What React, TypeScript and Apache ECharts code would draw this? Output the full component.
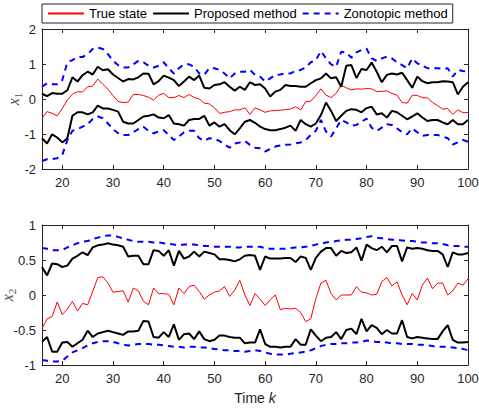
import React, { useEffect, useRef } from "react";
import * as echarts from "echarts";

// time steps k
const steps = [
  16, 17, 18, 19, 20, 21, 22, 23, 24, 25, 26, 27, 28, 29, 30, 31, 32, 33, 34, 35,
  36, 37, 38, 39, 40, 41, 42, 43, 44, 45, 46, 47, 48, 49, 50, 51, 52, 53, 54, 55,
  56, 57, 58, 59, 60, 61, 62, 63, 64, 65, 66, 67, 68, 69, 70, 71, 72, 73, 74, 75,
  76, 77, 78, 79, 80, 81, 82, 83, 84, 85, 86, 87, 88, 89, 90, 91, 92, 93, 94, 95,
  96, 97, 98, 99, 100,
];
const xTicks = [20, 30, 40, 50, 60, 70, 80, 90, 100];
const legendNames = ["True state", "Proposed method", "Zonotopic method"];

// x1: true state
const x1True = [
  -0.55, -0.36, -0.41, -0.48, -0.27, -0.03, 0.14, 0.21, 0.2, 0.35, 0.37, 0.57, 0.42, 0.28, 0.1, -0.07, -0.1, -0.09, 0.13, 0.13,
  0.1, 0.05, -0.03, 0.11, 0.16, 0.04, 0.04, 0.1, 0.04, 0.13, 0.04, 0.0, -0.12, -0.14, -0.25, -0.41, -0.38, -0.36, -0.31, -0.31,
  -0.25, -0.44, -0.25, -0.31, -0.38, -0.34, -0.33, -0.32, -0.3, -0.29, -0.22, -0.31, -0.08, -0.06, 0.1, 0.29, 0.11, 0.04, 0.16, 0.4,
  0.32, 0.26, 0.29, 0.28, 0.3, 0.29, 0.21, 0.22, 0.23, 0.16, 0.11, -0.1, -0.12, 0.11, 0.1, 0.04, 0.03, -0.1, -0.19, -0.29,
  -0.27, -0.44, -0.31, -0.39, -0.39,
];
// x1: proposed method bounds
const x1PropUpper = [
  0.15, 0.08, 0.17, 0.15, 0.15, 0.25, 0.62, 0.5, 0.68, 0.78, 0.7, 0.92, 0.82, 0.85, 0.7, 0.6, 0.5, 0.57, 0.56, 0.62,
  0.73, 0.72, 0.42, 0.51, 0.67, 0.61, 0.54, 0.37, 0.5, 0.64, 0.54, 0.67, 0.32, 0.3, 0.4, 0.42, 0.48, 0.35, 0.24, 0.35,
  0.26, 0.48, 0.4, 0.42, 0.3, 0.07, 0.21, 0.26, 0.4, 0.37, 0.37, 0.35, 0.35, 0.45, 0.54, 0.59, 0.73, 0.59, 0.62, 0.35,
  0.95, 0.97, 0.6, 0.86, 0.83, 1.04, 0.78, 0.48, 0.69, 0.73, 0.7, 0.75, 0.54, 0.32, 0.64, 0.51, 0.45, 0.48, 0.48, 0.51,
  0.5, 0.48, 0.13, 0.35, 0.48,
];
const x1PropLower = [
  -1.12, -1.27, -1.01, -1.1, -1.24, -1.12, -0.48, -0.38, -0.38, -0.44, -0.38, -0.19, -0.27, -0.27, -0.31, -0.36, -0.65, -0.7, -0.7, -0.6,
  -0.5, -0.48, -0.44, -0.53, -0.55, -0.46, -0.7, -0.72, -0.76, -0.6, -0.57, -0.57, -0.48, -0.76, -0.67, -0.79, -0.72, -0.89, -1.01, -0.84,
  -0.65, -0.6, -0.68, -0.79, -0.86, -0.89, -0.89, -0.86, -0.82, -0.76, -0.91, -0.6, -0.72, -0.79, -0.7, -0.46, -0.1, -0.34, -0.63, -0.48,
  -0.34, -0.29, -0.31, -0.38, -0.26, -0.22, -0.44, -0.41, -0.53, -0.34, -0.38, -0.48, -0.58, -0.5, -0.41, -0.53, -0.63, -0.6, -0.6, -0.67,
  -0.72, -0.6, -0.72, -0.72, -0.6,
];
// x1: zonotopic method bounds
const x1ZonoUpper = [
  0.35, 0.45, 0.42, 0.42, 0.54, 1.05, 1.11, 1.2, 1.2, 1.28, 1.43, 1.47, 1.43, 1.28, 1.09, 0.97, 0.9, 0.9, 0.99, 1.09,
  1.05, 0.95, 0.9, 0.95, 1.05, 0.88, 0.73, 0.88, 0.99, 0.99, 0.92, 0.73, 0.69, 0.88, 0.88, 0.83, 0.73, 0.59, 0.73, 0.78,
  0.78, 0.83, 0.69, 0.64, 0.5, 0.59, 0.69, 0.7, 0.73, 0.73, 0.8, 0.83, 0.9, 1.05, 1.11, 1.37, 1.16, 0.99, 0.92, 1.35,
  1.33, 1.18, 1.33, 1.4, 1.44, 1.16, 1.09, 1.16, 1.21, 1.16, 1.05, 0.97, 0.88, 1.16, 1.02, 0.95, 0.88, 0.88, 0.88, 0.86,
  0.88, 0.64, 0.83, 0.8, 0.78,
];
const x1ZonoLower = [
  -1.77, -1.72, -1.72, -1.69, -1.6, -1.17, -0.91, -0.86, -0.79, -0.72, -0.57, -0.5, -0.55, -0.7, -0.86, -0.98, -1.03, -1.03, -0.95, -0.86,
  -0.79, -0.91, -0.98, -0.93, -0.89, -1.03, -1.17, -1.07, -0.95, -0.91, -0.91, -1.12, -1.2, -1.12, -1.14, -1.2, -1.3, -1.39, -1.27, -1.24,
  -1.2, -1.31, -1.39, -1.41, -1.5, -1.43, -1.36, -1.33, -1.31, -1.3, -1.27, -1.24, -1.17, -1.03, -0.91, -0.6, -0.93, -1.07, -0.84, -0.6,
  -0.67, -0.76, -0.74, -0.65, -0.56, -0.82, -0.91, -0.82, -0.72, -0.74, -0.84, -0.95, -1.01, -0.84, -0.95, -1.05, -1.03, -1.03, -1.03, -1.07,
  -1.12, -1.3, -1.24, -1.17, -1.22,
];

// x2: true state
const x2True = [
  -0.48, -0.34, -0.31, -0.1, -0.28, -0.2, -0.09, -0.23, -0.12, -0.14, 0.05, 0.25, 0.26, 0.17, 0.04, 0.05, 0.06, -0.1, 0.1, 0.06,
  -0.09, -0.14, 0.1, 0.02, 0.02, 0.01, -0.14, 0.1, 0.02, 0.12, 0.14, 0.05, -0.06, 0.0, 0.04, 0.06, 0.12, -0.02, 0.07, 0.21,
  0.0, -0.15, 0.02, -0.06, -0.15, -0.07, 0.0, -0.21, -0.19, -0.2, -0.19, -0.25, -0.38, -0.34, -0.05, 0.17, 0.21, 0.02, -0.07, 0.0,
  0.0, 0.0, 0.12, 0.04, 0.03, 0.0, 0.01, 0.19, 0.25, 0.13, 0.19, 0.0, -0.14, 0.02, -0.07, 0.14, 0.24, 0.09, 0.17, 0.17,
  0.0, 0.06, 0.17, 0.14, 0.23,
];
// x2: proposed method bounds
const x2PropUpper = [
  0.4, 0.28, 0.45, 0.44, 0.4, 0.42, 0.52, 0.56, 0.61, 0.57, 0.68, 0.71, 0.72, 0.74, 0.72, 0.71, 0.69, 0.55, 0.56, 0.56,
  0.44, 0.44, 0.64, 0.63, 0.56, 0.64, 0.42, 0.63, 0.52, 0.55, 0.62, 0.55, 0.62, 0.6, 0.58, 0.51, 0.51, 0.5, 0.48, 0.51,
  0.56, 0.57, 0.56, 0.36, 0.55, 0.52, 0.52, 0.52, 0.53, 0.53, 0.47, 0.55, 0.53, 0.36, 0.53, 0.62, 0.67, 0.67, 0.56, 0.63,
  0.6, 0.61, 0.68, 0.49, 0.72, 0.67, 0.64, 0.69, 0.61, 0.7, 0.7, 0.48, 0.68, 0.66, 0.67, 0.66, 0.64, 0.63, 0.63, 0.58,
  0.4, 0.61, 0.58, 0.58, 0.6,
];
const x2PropLower = [
  -0.67, -0.6, -0.81, -0.81, -0.68, -0.67, -0.74, -0.69, -0.64, -0.51, -0.6, -0.55, -0.53, -0.51, -0.53, -0.55, -0.57, -0.52, -0.52, -0.51,
  -0.37, -0.38, -0.6, -0.61, -0.53, -0.6, -0.42, -0.64, -0.56, -0.55, -0.63, -0.52, -0.63, -0.66, -0.64, -0.58, -0.58, -0.6, -0.61, -0.61,
  -0.69, -0.68, -0.68, -0.49, -0.7, -0.74, -0.74, -0.75, -0.74, -0.74, -0.63, -0.71, -0.71, -0.49, -0.58, -0.66, -0.61, -0.6, -0.53, -0.63,
  -0.5, -0.48, -0.56, -0.34, -0.52, -0.43, -0.47, -0.56, -0.5, -0.55, -0.55, -0.36, -0.6, -0.62, -0.6, -0.61, -0.62, -0.63, -0.63, -0.52,
  -0.43, -0.64, -0.68, -0.68, -0.67,
];
// x2: zonotopic method bounds
const x2ZonoUpper = [
  0.67, 0.66, 0.64, 0.64, 0.64, 0.68, 0.71, 0.74, 0.76, 0.77, 0.8, 0.82, 0.84, 0.85, 0.85, 0.83, 0.81, 0.79, 0.77, 0.76,
  0.76, 0.76, 0.75, 0.75, 0.74, 0.73, 0.72, 0.71, 0.72, 0.72, 0.72, 0.71, 0.7, 0.7, 0.69, 0.69, 0.69, 0.69, 0.68, 0.68,
  0.69, 0.69, 0.69, 0.69, 0.67, 0.66, 0.66, 0.66, 0.66, 0.67, 0.68, 0.68, 0.69, 0.7, 0.72, 0.73, 0.75, 0.76, 0.77, 0.78,
  0.79, 0.79, 0.8, 0.81, 0.83, 0.84, 0.82, 0.81, 0.8, 0.79, 0.79, 0.78, 0.77, 0.77, 0.76, 0.75, 0.75, 0.74, 0.74, 0.73,
  0.71, 0.7, 0.7, 0.69, 0.69,
];
const x2ZonoLower = [
  -0.93, -0.94, -0.95, -0.95, -0.94, -0.88, -0.82, -0.79, -0.76, -0.72, -0.69, -0.67, -0.66, -0.66, -0.67, -0.69, -0.71, -0.72, -0.71, -0.7,
  -0.7, -0.7, -0.71, -0.71, -0.72, -0.73, -0.74, -0.74, -0.75, -0.74, -0.74, -0.75, -0.75, -0.76, -0.77, -0.78, -0.79, -0.79, -0.8, -0.8,
  -0.81, -0.8, -0.79, -0.8, -0.82, -0.84, -0.85, -0.85, -0.85, -0.84, -0.83, -0.82, -0.81, -0.79, -0.76, -0.73, -0.71, -0.7, -0.7, -0.69,
  -0.69, -0.68, -0.68, -0.67, -0.65, -0.66, -0.67, -0.67, -0.68, -0.69, -0.69, -0.7, -0.7, -0.7, -0.71, -0.71, -0.72, -0.73, -0.74, -0.74,
  -0.74, -0.75, -0.76, -0.77, -0.79,
];

const FONT = "'Liberation Sans', Arial, Helvetica, sans-serif";
const AXIS_COLOR = "#262626";

const pairs = (vals: number[]) => steps.map((k, i) => [k, vals[i]]);

function xAxisPair(gridIndex: number, withName: boolean) {
  const common = {
    type: "value" as const,
    gridIndex,
    min: 16,
    max: 100,
    splitLine: { show: false },
    axisLine: { show: true, onZero: false, lineStyle: { color: AXIS_COLOR, width: 1 } },
    axisTick: { show: true, inside: true, length: 4, customValues: xTicks, lineStyle: { color: AXIS_COLOR } },
  };
  return [
    {
      ...common,
      position: "bottom",
      axisLabel: {
        show: true,
        customValues: xTicks,
        margin: 7,
        fontSize: 13,
        color: AXIS_COLOR,
        fontFamily: FONT,
      },
      ...(withName
        ? {
            name: "{t|Time }{k|k}",
            nameLocation: "middle",
            nameGap: 26,
            nameMoveOverlap: false,
            nameTextStyle: {
              rich: {
                t: { fontSize: 14, fontFamily: FONT, color: AXIS_COLOR },
                k: { fontSize: 14, fontFamily: FONT, fontStyle: "italic", color: AXIS_COLOR },
              },
            },
          }
        : {}),
    },
    { ...common, position: "top", axisLabel: { show: false } },
  ];
}

function yAxisPair(gridIndex: number, min: number, max: number, interval: number, sub: string, gap: number) {
  const common = {
    type: "value" as const,
    gridIndex,
    min,
    max,
    interval,
    splitLine: { show: false },
    axisLine: { show: true, onZero: false, lineStyle: { color: AXIS_COLOR, width: 1 } },
    axisTick: { show: true, inside: true, length: 4, lineStyle: { color: AXIS_COLOR } },
  };
  return [
    {
      ...common,
      position: "left",
      axisLabel: { show: true, margin: 6, fontSize: 13, color: AXIS_COLOR, fontFamily: FONT },
      name: "{i|x}{s|" + sub + "}",
      nameLocation: "middle",
      nameRotate: 90,
      nameGap: gap,
      nameMoveOverlap: false,
      nameTextStyle: {
        rich: {
          i: { fontSize: 16, fontFamily: "'Liberation Serif', serif", fontStyle: "italic", color: "#505050", lineHeight: 20 },
          s: { fontSize: 11, fontFamily: "'Liberation Serif', serif", color: "#505050", lineHeight: 11, verticalAlign: "bottom" },
        },
      },
    },
    { ...common, position: "right", axisLabel: { show: false } },
  ];
}

function seriesFor(xi: number, yi: number, t: number[], pu: number[], pl: number[], zu: number[], zl: number[]) {
  const base = { type: "line" as const, xAxisIndex: xi, yAxisIndex: yi, symbol: "none", showSymbol: false, silent: true };
  const red = { color: "#ff0000", width: 1 };
  const black = { color: "#000000", width: 2 };
  const blue = { color: "#0000ff", width: 2, type: [6, 5] };
  return [
    { ...base, name: legendNames[0], data: pairs(t), lineStyle: red, itemStyle: { color: "#ff0000" } },
    { ...base, name: legendNames[1], data: pairs(pu), lineStyle: black, itemStyle: { color: "#000000" } },
    { ...base, name: legendNames[1], data: pairs(pl), lineStyle: black, itemStyle: { color: "#000000" } },
    { ...base, name: legendNames[2], data: pairs(zu), lineStyle: blue, itemStyle: { color: "#0000ff" } },
    { ...base, name: legendNames[2], data: pairs(zl), lineStyle: blue, itemStyle: { color: "#0000ff" } },
  ];
}

export default function App() {
  const ref = useRef<HTMLDivElement>(null);
  useEffect(() => {
    if (!ref.current) return;
    document.body.style.margin = "0";
    const chart = echarts.init(ref.current, null, { renderer: "svg" });
    const option = {
      animation: false,
      backgroundColor: "#ffffff",
      legend: {
        data: legendNames,
        left: 42,
        top: 4,
        orient: "horizontal",
        itemWidth: 36,
        itemHeight: 10,
        itemGap: 5,
        padding: [3, 5, 3, 5],
        borderColor: AXIS_COLOR,
        borderWidth: 1,
        backgroundColor: "#ffffff",
        selectedMode: false,
        itemStyle: { opacity: 0 },
        textStyle: { fontSize: 13, color: "#000000", fontFamily: FONT },
      },
      grid: [
        { left: 42, right: 11, top: 29, height: 140, containLabel: false, outerBoundsMode: "none" },
        { left: 42, right: 11, top: 225, height: 140, containLabel: false, outerBoundsMode: "none" },
      ],
      xAxis: [...xAxisPair(0, false), ...xAxisPair(1, true)],
      yAxis: [...yAxisPair(0, -2, 2, 1, "1", 19), ...yAxisPair(1, -1, 1, 0.5, "2", 25)],
      series: [
        ...seriesFor(0, 0, x1True, x1PropUpper, x1PropLower, x1ZonoUpper, x1ZonoLower),
        ...seriesFor(2, 2, x2True, x2PropUpper, x2PropLower, x2ZonoUpper, x2ZonoLower),
      ],
    };
    chart.setOption(option as any);
    return () => chart.dispose();
  }, []);
  return <div ref={ref} style={{ width: 479, height: 413 }} />;
}
